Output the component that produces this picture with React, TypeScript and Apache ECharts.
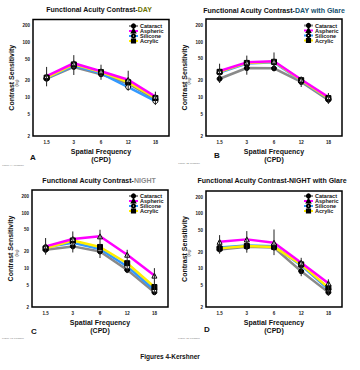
import React, { useEffect, useRef } from 'react';
import * as echarts from 'echarts';

// ---------- data ----------
const xCats = ['1.5', '3', '6', '12', '18'];
const yTicks = [2, 5, 10, 20, 50, 100, 200];
const seriesNames = ['Cataract', 'Aspheric', 'Silicone', 'Acrylic'];

// Panel A: DAY
const dayCataract = [22, 36, 26.5, 18, 9.2];
const dayAspheric = [24.5, 42, 30, 21, 10.4];
const daySilicone = [22.5, 38, 27.5, 15.5, 8.6];
const dayAcrylic = [23, 40, 29, 19, 9.8];
const dayErrLow = [16, 25.7, 21, 13.3, 7.3];
const dayErrHigh = [36, 59, 39.5, 30.7, 12.8];

// Panel B: DAY with Glare
const dayGlareCataract = [21.7, 34, 33.5, 19, 9];
const dayGlareAspheric = [30, 43, 45, 21, 10.1];
const dayGlareSilicone = [28, 41, 43, 20, 9.5];
const dayGlareAcrylic = [29, 42, 44, 20.5, 9.7];
const dayGlareErrLow = [18.2, 25.7, 31.6, 15.4, 7.6];
const dayGlareErrHigh = [40.7, 57, 65, 24, 12];

// Panel C: NIGHT
const nightCataract = [21.7, 25, 20.2, 9.4, 3.7];
const nightAspheric = [25, 34, 38, 17.7, 7.4];
const nightSilicone = [24, 29, 22.4, 10.8, 4.1];
const nightAcrylic = [23, 32, 24.4, 12.4, 4.6];
const nightErrLow = [17.7, 19.4, 15.4, 8.2, 3.3];
const nightErrHigh = [35.4, 46.6, 50, 21.7, 10.1];

// Panel D: NIGHT with Glare
const nightGlareCataract = [22.5, 25.2, 24.3, 9, 3.7];
const nightGlareAspheric = [31, 34.3, 29.8, 12.9, 5.4];
const nightGlareSilicone = [24.3, 26.6, 25.8, 11.5, 4.2];
const nightGlareAcrylic = [23.5, 26, 25, 12, 4.5];
const nightGlareErrLow = [18.8, 19.6, 17.7, 7.3, 3.2];
const nightGlareErrHigh = [41, 48.6, 52, 15.8, 6.4];

// ---------- layout & styles ----------
const FONT = '"Liberation Sans", Arial, Helvetica, sans-serif';

const panels = [
  {
    data: [dayCataract, dayAspheric, daySilicone, dayAcrylic],
    errLow: dayErrLow, errHigh: dayErrHigh,
    grid: { left: 33, top: 19.5, width: 136, height: 116.5 },
    legend: { left: 128, top: 23 },
  },
  {
    data: [dayGlareCataract, dayGlareAspheric, dayGlareSilicone, dayGlareAcrylic],
    errLow: dayGlareErrLow, errHigh: dayGlareErrHigh,
    grid: { left: 206, top: 19, width: 136, height: 117 },
    legend: { left: 303, top: 22.5 },
  },
  {
    data: [nightCataract, nightAspheric, nightSilicone, nightAcrylic],
    errLow: nightErrLow, errHigh: nightErrHigh,
    grid: { left: 32, top: 190, width: 136, height: 117 },
    legend: { left: 128, top: 193 },
  },
  {
    data: [nightGlareCataract, nightGlareAspheric, nightGlareSilicone, nightGlareAcrylic],
    errLow: nightGlareErrLow, errHigh: nightGlareErrHigh,
    grid: { left: 206, top: 191, width: 136, height: 116 },
    legend: { left: 303, top: 193 },
  },
];

const seriesStyles: Record<string, any> = {
  Cataract: { line: '#8a8a8a', symbol: 'circle', fill: '#000000' },
  Aspheric: { line: '#ff00ff', symbol: 'triangle', fill: '#ffffff' },
  Silicone: { line: '#3399ff', symbol: 'circle', fill: '#ffffff' },
  Acrylic: { line: '#ffee00', symbol: 'rect', fill: '#000000' },
};
// draw order (later = on top)
const drawOrder = [0, 2, 3, 1];

export default function App() {
  const ref = useRef<HTMLDivElement>(null);

  useEffect(() => {
    document.body.style.margin = '0';
    if (!ref.current) return;
    const chart = echarts.init(ref.current, undefined, { renderer: 'svg' });

    const grids: any[] = [];
    const xAxes: any[] = [];
    const yAxes: any[] = [];
    const legends: any[] = [];
    const series: any[] = [];

    panels.forEach((p, i) => {
      grids.push({ ...p.grid, show: true, borderColor: '#000', borderWidth: 1.5, backgroundColor: '#fff' });
      xAxes.push({
        type: 'category',
        gridIndex: i,
        data: xCats,
        boundaryGap: true,
        axisLine: { show: false },
        axisTick: { show: false },
        splitLine: { show: false },
        axisLabel: { fontSize: 4.5, fontWeight: 'bold', color: '#222', margin: 4, fontFamily: FONT },
        name: 'Spatial Frequency\n(CPD)',
        nameLocation: 'middle',
        nameGap: 11,
        nameTextStyle: { fontSize: 7, fontWeight: 'bold', color: '#111', lineHeight: 8, fontFamily: FONT },
      });
      yAxes.push({
        type: 'log',
        gridIndex: i,
        logBase: 10,
        min: 2,
        max: 262,
        axisLine: { show: false },
        axisTick: { show: false },
        splitLine: { show: false },
        axisLabel: { show: false },
        name: 'Contrast Sensitivity',
        nameLocation: 'middle',
        nameGap: 18,
        nameTextStyle: { fontSize: 7, fontWeight: 'bold', color: '#111', fontFamily: FONT },
      });
      legends.push({
        data: seriesNames,
        orient: 'vertical',
        left: p.legend.left,
        top: p.legend.top,
        itemWidth: 9,
        itemHeight: 4,
        itemGap: -1,
        padding: 0,
        selectedMode: false,
        textStyle: {
          fontSize: 5.5,
          fontWeight: 'bold',
          color: '#111',
          fontFamily: FONT,
          lineHeight: 4.5,
          padding: [0, 0, 0, -3],
        },
      });

      // y tick labels drawn at the log scale's positions
      series.push({
        type: 'custom',
        xAxisIndex: i,
        yAxisIndex: i,
        silent: true,
        clip: false,
        z: 5,
        data: yTicks.map((v) => [0, v]),
        encode: { x: 0, y: 1 },
        renderItem: (params: any, api: any) => {
          const v = api.value(1);
          const pt = api.coord([0, v]);
          const cs = params.coordSys;
          return {
            type: 'text',
            x: cs.x - 3,
            y: pt[1],
            style: {
              text: String(v),
              fontSize: 4.5,
              fontWeight: 'bold',
              fontFamily: FONT,
              fill: '#222',
              align: 'right',
              verticalAlign: 'middle',
            },
          };
        },
      });

      drawOrder.forEach((k) => {
        const name = seriesNames[k];
        const st = seriesStyles[name];
        series.push({
          type: 'line',
          name,
          xAxisIndex: i,
          yAxisIndex: i,
          data: p.data[k],
          symbol: st.symbol,
          symbolSize: 5,
          showSymbol: true,
          z: 3,
          lineStyle: { color: st.line, width: 2.5 },
          itemStyle: { color: st.fill, borderColor: '#000', borderWidth: 1 },
          emphasis: { disabled: true },
        });
      });

      // error bars
      series.push({
        type: 'custom',
        xAxisIndex: i,
        yAxisIndex: i,
        silent: true,
        z: 4,
        data: p.errLow.map((lo, k) => [k, lo, p.errHigh[k]]),
        encode: { x: 0, y: [1, 2] },
        renderItem: (params: any, api: any) => {
          const x = api.value(0);
          const a = api.coord([x, api.value(1)]);
          const b = api.coord([x, api.value(2)]);
          return {
            type: 'line',
            shape: { x1: a[0], y1: a[1], x2: b[0], y2: b[1] },
            style: { stroke: '#222', lineWidth: 1 },
          };
        },
      });
    });

    const titleText = (x: number, y: number, text: string, rich: any) => ({
      type: 'text',
      x,
      y,
      style: {
        text,
        rich,
        fontSize: 7,
        fontWeight: 'bold',
        fontFamily: FONT,
        fill: '#111',
        align: 'center',
        verticalAlign: 'middle',
      },
    });
    const richPart = (color: string) => ({ fill: color, fontSize: 7, fontWeight: 'bold', fontFamily: FONT });
    const smallText = (x: number, y: number, text: string, size: number, extra: any = {}) => ({
      type: 'text',
      x,
      y,
      style: { text, fontSize: size, fontFamily: FONT, fill: '#111', align: 'center', verticalAlign: 'middle', ...extra },
    });

    const graphic: any[] = [
      titleText(99, 9, 'Functional Acuity Contrast-{a|DAY}', { a: richPart('#6a7200') }),
      titleText(274, 10, 'Functional Acuity Contrast-{a|DAY with Glare}', { a: richPart('#14506e') }),
      titleText(99, 180, 'Functional Acuity Contrast-{a|NIGHT}', { a: richPart('#8a8a8a') }),
      titleText(272, 180, 'Functional Acuity Contrast-NIGHT with Glare', {}),
      smallText(33, 157, 'A', 8, { fontWeight: 'bold' }),
      smallText(217, 155, 'B', 8, { fontWeight: 'bold' }),
      smallText(34, 331, 'C', 8, { fontWeight: 'bold' }),
      smallText(207, 329, 'D', 8, { fontWeight: 'bold' }),
      { ...smallText(17, 83, '(log)', 3.5), rotation: Math.PI / 2 },
      { ...smallText(189, 81, '(log)', 3.5), rotation: Math.PI / 2 },
      { ...smallText(16.5, 253, '(log)', 3.5), rotation: Math.PI / 2 },
      { ...smallText(189, 253, '(log)', 3.5), rotation: Math.PI / 2 },
      smallText(13, 165, 'Figure 4A Kershner', 2.5, { fill: '#777' }),
      smallText(189, 163, 'Figure 4B Kershner', 2.5, { fill: '#777' }),
      smallText(13, 338, 'Figure 4C Kershner', 2.5, { fill: '#777' }),
      smallText(189, 338, 'Figure 4D Kershner', 2.5, { fill: '#777' }),
      smallText(170, 356, 'Figures 4-Kershner', 6.5, { fontWeight: 'bold' }),
    ];

    chart.setOption({
      animation: false,
      backgroundColor: '#fff',
      grid: grids,
      xAxis: xAxes,
      yAxis: yAxes,
      legend: legends,
      series,
      graphic,
    });

    return () => chart.dispose();
  }, []);

  return <div ref={ref} style={{ width: 360, height: 370 }} />;
}
